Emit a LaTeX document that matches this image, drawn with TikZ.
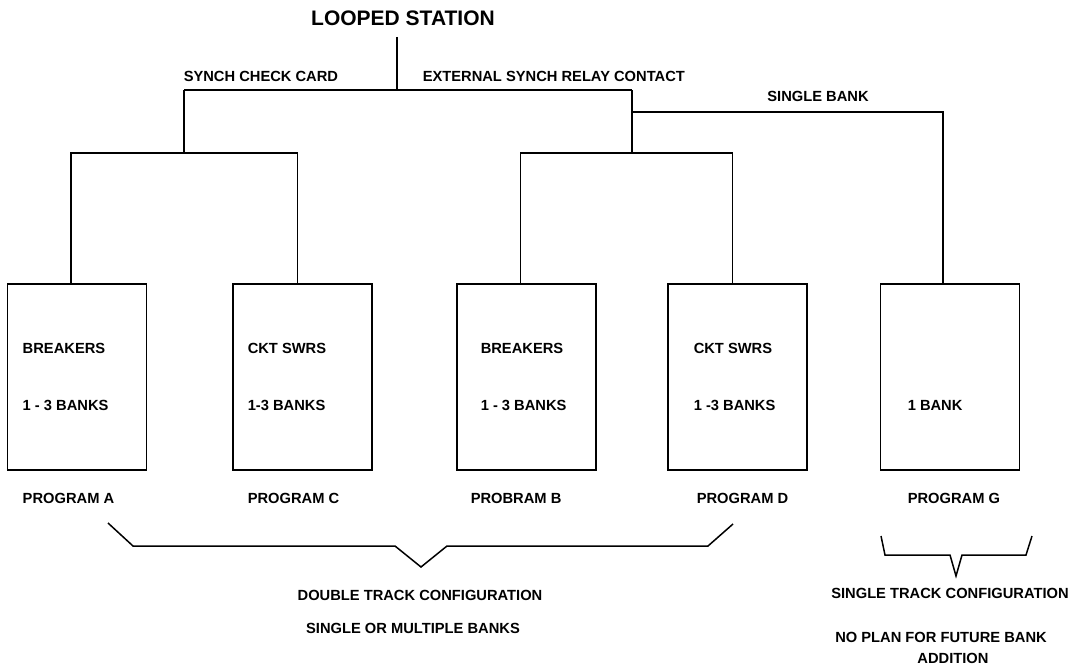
\documentclass[tikz,border=0pt]{standalone}
\usepackage{fontspec}
\setmainfont{Liberation Sans}
\begin{document}
\begin{tikzpicture}[x=1pt,y=-1pt,line width=1.5pt,line join=miter,
  lbl/.style={font=\bfseries\fontsize{14.7}{17}\selectfont,inner sep=0pt},
  ttl/.style={font=\bfseries\fontsize{21}{24}\selectfont,inner sep=0pt},
  box/.style={draw,minimum width=139pt,minimum height=186pt,inner sep=0pt}]
\useasboundingbox (0,0) rectangle (1071,669);
% title and branch labels
\node[ttl] (title) at (403,18) {LOOPED STATION};
\node[lbl,anchor=west] (scc) at (183,76) {SYNCH CHECK CARD};
\node[lbl,anchor=west] (esr) at (422,76) {EXTERNAL SYNCH RELAY CONTACT};
\node[lbl] (sb) at (818,96) {SINGLE BANK};
% boxes
\node[box] (A) at (77,377) {};
\node[box] (C) at (302.5,377) {};
\node[box] (B) at (526.5,377) {};
\node[box] (D) at (737.5,377) {};
\node[box] (G) at (950,377) {};
% tree junctions
\coordinate (top) at (397,37);
\coordinate (j0) at (397,90);
\coordinate (jl) at (184,90);
\coordinate (jr) at (632,90);
\coordinate (jl2) at (184,153);
\coordinate (jr2) at (632,153);
\coordinate (jg) at (632,112);
\draw (top) -- (j0);
\draw (jl) -- (jr);
\draw (jl) -- (jl2);
\draw (jr) -- (jr2);
\draw ([xshift=-6pt]A.north) |- (jl2) -| ([xshift=-5pt]C.north);
\draw ([xshift=-6pt]B.north) |- (jr2) -| ([xshift=-5pt]D.north);
\draw (jg) -| ([xshift=-7pt]G.north);
% box texts
\node[lbl,anchor=west] (a1) at (22,348) {BREAKERS};
\node[lbl,anchor=west] (a2) at (22,405) {1 - 3 BANKS};
\node[lbl,anchor=west] (c1) at (247,348) {CKT SWRS};
\node[lbl,anchor=west] (c2) at (247,405) {1-3 BANKS};
\node[lbl,anchor=west] (b1) at (480,348) {BREAKERS};
\node[lbl,anchor=west] (b2) at (480,405) {1 - 3 BANKS};
\node[lbl,anchor=west] (d1) at (693,348) {CKT SWRS};
\node[lbl,anchor=west] (d2) at (693,405) {1 -3 BANKS};
\node[lbl,anchor=west] (g2) at (907,405) {1 BANK};
% program labels
\node[lbl,anchor=west] (pa) at (22,498) {PROGRAM A};
\node[lbl,anchor=west] (pc) at (247,498) {PROGRAM C};
\node[lbl,anchor=west] (pb) at (470,498) {PROBRAM B};
\node[lbl,anchor=west] (pd) at (696,498) {PROGRAM D};
\node[lbl,anchor=west] (pg) at (907,498) {PROGRAM G};
% brackets
\coordinate (l1) at (108,523);
\coordinate (l2) at (133,546);
\coordinate (l3) at (395,546);
\coordinate (l4) at (421,567);
\coordinate (l5) at (447,546);
\coordinate (l6) at (708,546);
\coordinate (l7) at (733,524);
\draw (l1) -- (l2) -- (l3) -- (l4) -- (l5) -- (l6) -- (l7);
\coordinate (r1) at (881,536);
\coordinate (r2) at (885,555);
\coordinate (r3) at (950,555);
\coordinate (r4) at (956,576);
\coordinate (r5) at (962,555);
\coordinate (r6) at (1026,555);
\coordinate (r7) at (1032,536);
\draw (r1) -- (r2) -- (r3) -- (r4) -- (r5) -- (r6) -- (r7);
% bottom texts
\node[lbl] (dtc) at (420,595) {DOUBLE TRACK CONFIGURATION};
\node[lbl] (som) at (413,628) {SINGLE OR MULTIPLE BANKS};
\node[lbl] (stc) at (950,593) {SINGLE TRACK CONFIGURATION};
\node[lbl] (np) at (941,637) {NO PLAN FOR FUTURE BANK};
\node[lbl] (add) at (953,658) {ADDITION};
\end{tikzpicture}
\end{document}
